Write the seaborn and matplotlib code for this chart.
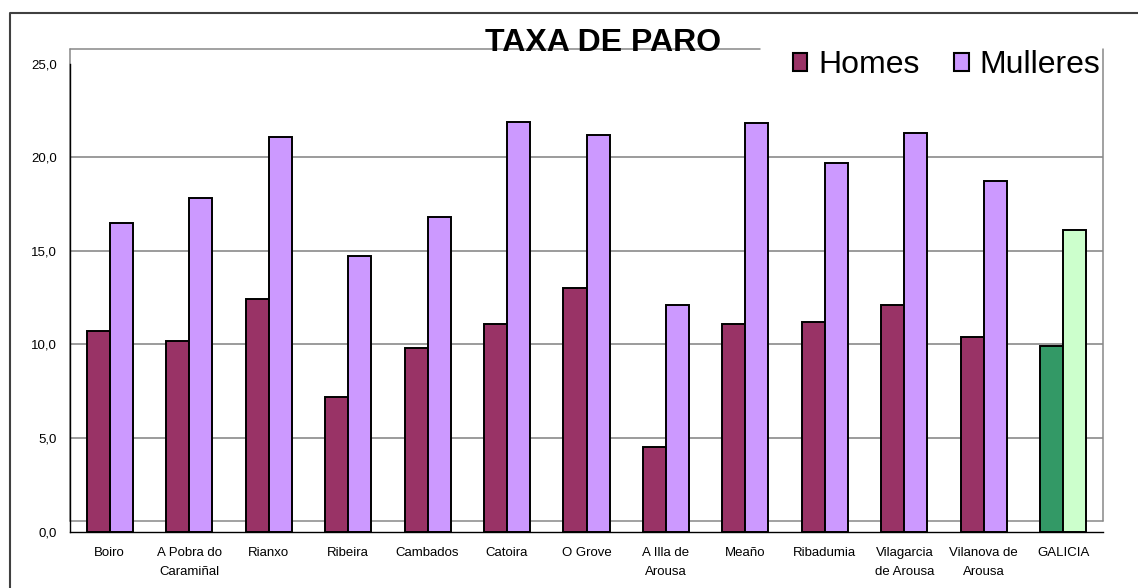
import numpy as np
import pandas as pd
import seaborn as sns
import matplotlib as mpl
import matplotlib.pyplot as plt
from matplotlib.lines import Line2D
from matplotlib.patches import Patch

sns.set_style('white')
mpl.rcParams['font.family'] = ['Liberation Sans', 'DejaVu Sans']
mpl.rcParams['text.color'] = 'black'
mpl.rcParams['xtick.color'] = 'black'
mpl.rcParams['ytick.color'] = 'black'
mpl.rcParams['axes.labelcolor'] = 'black'

#%% data (taxa de paro, %)

municipios = ['Boiro', 'A Pobra do\nCarami\u00f1al', 'Rianxo', 'Ribeira', 'Cambados',
              'Catoira', 'O Grove', 'A Illa de\nArousa', 'Mea\u00f1o', 'Ribadumia',
              'Vilagarcia\nde Arousa', 'Vilanova de\nArousa', 'GALICIA']
homes = [10.7, 10.2, 12.4, 7.2, 9.8, 11.1, 13.0, 4.5, 11.1, 11.2, 12.1, 10.4, 9.9]
mulleres = [16.5, 17.8, 21.1, 14.7, 16.8, 21.9, 21.2, 12.1, 21.8, 19.7, 21.3, 18.7, 16.1]
sexos = ['Homes', 'Mulleres']
yticks = [0, 5, 10, 15, 20, 25]

df = pd.DataFrame({'Municipio': municipios * 2,
                   'Sexo': [sexos[0]] * len(homes) + [sexos[1]] * len(mulleres),
                   'Taxa': homes + mulleres})

colors = ['#993366', '#CC99FF']
galicia_colors = ['#339966', '#CCFFCC']

#%% plot

W, H = 1138, 588
fig = plt.figure(figsize=(W / 100, H / 100), dpi=100)
ax = fig.add_axes([70 / W, (H - 531.5) / H, 1033 / W, 468 / H])

sns.barplot(data=df, x='Municipio', y='Taxa', hue='Sexo', order=municipios,
            hue_order=sexos, palette=colors, width=0.58, edgecolor='black',
            linewidth=1.4, saturation=1, legend=False, ax=ax, zorder=3)

# GALICIA in green
for cont, c in zip(ax.containers, galicia_colors):
    cont[-1].set_facecolor(c)

ax.set_xlim(-0.5, len(municipios) - 0.5)
ax.set_ylim(0, 25)
ax.set_xlabel('')
ax.set_ylabel('')

ax.set_yticks(yticks)
ax.set_yticklabels(['{:.1f}'.format(v).replace('.', ',') for v in yticks], fontsize=9.5)
ax.set_xticks(range(len(municipios)))
ax.set_xticklabels(municipios, fontsize=9.5, linespacing=1.75)
ax.set_xticks(np.arange(-0.5, len(municipios)), minor=True)
ax.tick_params(axis='x', which='major', length=0, pad=11)
ax.tick_params(axis='x', which='minor', length=5, width=1, color='black', direction='out')
ax.tick_params(axis='y', length=4.5, width=1, color='black', direction='out', pad=5)

# gridlines
for v in yticks[1:-1]:
    ax.axhline(v, color='#808080', lw=1.1, zorder=1)

sns.despine(ax=ax)
for s in ['left', 'bottom']:
    ax.spines[s].set_color('black')
    ax.spines[s].set_linewidth(1.0)

# excel-style wall frame (slightly shifted up)
fy0, fy1 = 0.58 / 25, 25.75 / 25
fx_top = (760 - 70) / 1033
frame = dict(color='#888888', lw=1.1, transform=ax.transAxes, clip_on=False, zorder=1)
ax.add_line(Line2D([0, 1], [fy0, fy0], **frame))
ax.add_line(Line2D([0, 0], [fy0, fy1], **frame))
ax.add_line(Line2D([1, 1], [fy0, fy1], **frame))
ax.add_line(Line2D([0, fx_top], [fy1, fy1], **frame))

# outer chart border
fig.add_artist(Line2D([10 / W, 10 / W, 1], [0, 1 - 13 / H, 1 - 13 / H],
                      color='#404040', lw=1.5))

fig.text(603 / W, 1 - 51 / H, 'TAXA DE PARO', ha='center', va='baseline',
         fontsize=23, fontweight='bold', color='black')

handles = [Patch(facecolor=c, edgecolor='black', lw=1.5) for c in colors]
ax.legend(handles, sexos, loc='center left', bbox_to_anchor=(793 / W, 1 - 65 / H),
          bbox_transform=fig.transFigure, frameon=False, ncol=2, fontsize=23,
          handlelength=0.45, handleheight=0.5, handletextpad=0.33,
          columnspacing=1.1, borderpad=0, borderaxespad=0, labelcolor='black')

fig.savefig('out.png', dpi=100)
